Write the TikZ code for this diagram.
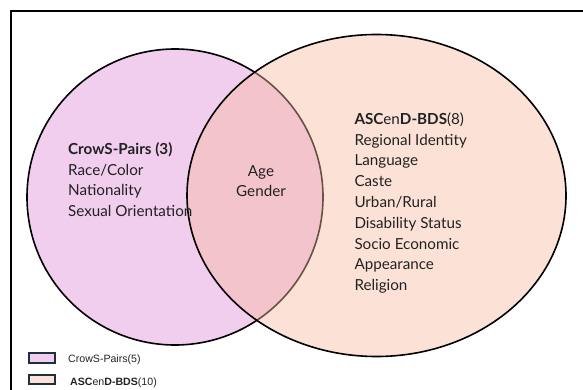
\documentclass[tikz,border=0pt]{standalone}
\usepackage{fontspec}
\setmainfont{Lato}
\newfontfamily\legendfont{Liberation Sans}
\definecolor{pinkfill}{RGB}{241,205,238}
\definecolor{peachbase}{RGB}{246,186,160}
\definecolor{peachlegend}{RGB}{251,225,214}
\definecolor{txt}{RGB}{34,34,34}
\definecolor{navy}{RGB}{30,48,64}
\begin{document}
\begin{tikzpicture}[x=1pt,y=-1pt,
  setcircle/.style={line width=1.6pt},
  labeltext/.style={font=\fontsize{15.2}{20.8}\selectfont, text=txt, inner sep=0pt, align=left},
  legendbox/.style={draw=navy, line width=1.5pt},
  legendtext/.style={font=\legendfont\fontsize{10.6}{12}\selectfont, text=txt, inner sep=0pt, anchor=base west}]
\useasboundingbox (0,0) rectangle (583,390);
% frame
\draw[line width=1.2pt] (11,395) -- (11,11) -- (590,11);
% sets
\filldraw[setcircle, fill=pinkfill] (175,197) ellipse [x radius=148, y radius=148];
\filldraw[setcircle, fill=peachbase, fill opacity=0.43] (376.5,195.5) ellipse [x radius=189.5, y radius=161];
% texts (base anchor = baseline of last line)
\node[labeltext, anchor=base west] (crows) at (68,216.7) {\textbf{CrowS-Pairs (3)}\\Race/Color\\Nationality\\Sexual Orientation};
\node[labeltext, anchor=base, align=center] (common) at (261,196.8) {Age\\Gender};
\node[labeltext, anchor=base west] (ascend) at (354.3,290.7) {\textbf{ASC}en\textbf{D-BDS}(8)\\Regional Identity\\Language\\Caste\\Urban/Rural\\Disability Status\\Socio Economic\\Appearance\\Religion};
% legend
\draw[legendbox, fill=pinkfill] (29,353) rectangle (55,363);
\node[legendtext] (l1) at (68,362) {CrowS-Pairs(5)};
\draw[legendbox, fill=peachlegend] (29,375) rectangle (55,384);
\node[legendtext] (l2) at (70,385.5) {\textbf{ASC}en\textbf{D-BDS}(10)};
\end{tikzpicture}
\end{document}
